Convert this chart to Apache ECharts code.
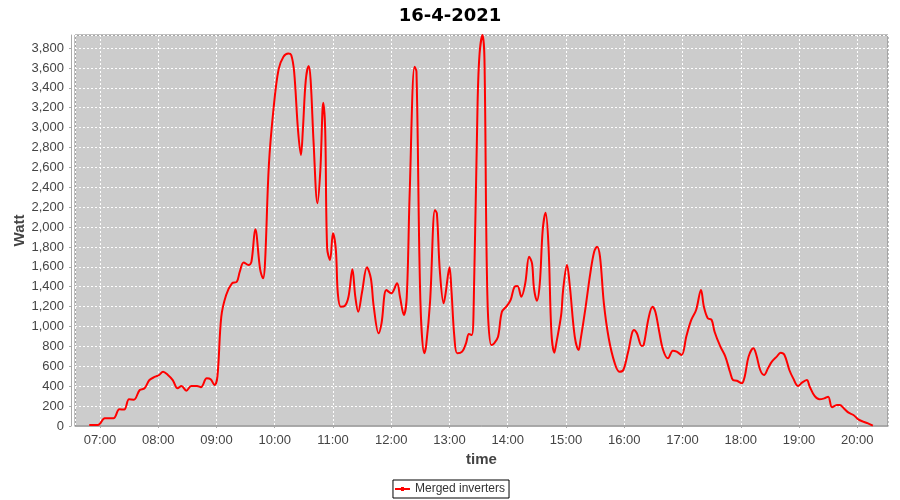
<!DOCTYPE html>
<html>
<head>
<meta charset="utf-8">
<script src="https://cdn.jsdelivr.net/npm/echarts@6/dist/echarts.min.js"></script>
<style>html,body{margin:0;padding:0;background:#fff}#c{width:900px;height:500px}</style>
</head>
<body>
<div id="c"></div>
<script>
const chartTitle = '16-4-2021';
const seriesName = 'Merged inverters';
const xName = 'time';
const yName = 'Watt';
const day = [2021, 3, 16];
const xMinTime = '06:34:20';
const xMaxTime = '20:31:36';
const yMin = 0;
const yMax = 3931;
const yStep = 200;

const times = ['06:49','06:58','07:05','07:14','07:20','07:25','07:30','07:35','07:41','07:46','07:51','07:57',
'08:01','08:05','08:10','08:15','08:20','08:24','08:29','08:34','08:40','08:44','08:50','08:54','08:58',
'09:01','09:05','09:10','09:16','09:21','09:24','09:28','09:33','09:36','09:40','09:45','09:48','09:50','09:54','09:59',
'10:04','10:09','10:14','10:17','10:20','10:24','10:27','10:29','10:32','10:35','10:37','10:40','10:44','10:47','10:50','10:52','10:54','10:57',
'11:00','11:03','11:05','11:08','11:12','11:16','11:20','11:23','11:26','11:30','11:35','11:39','11:42','11:47','11:50','11:55',
'12:00','12:06','12:09','12:13','12:16','12:19','12:24','12:26','12:30','12:34','12:36','12:40','12:45','12:47','12:50','12:54','12:56',
'13:00','13:02','13:05','13:08','13:13','13:17','13:20','13:23','13:25','13:29','13:31','13:34','13:36','13:39','13:43','13:46','13:50','13:54','13:59',
'14:03','14:07','14:10','14:14','14:18','14:22','14:25','14:27','14:30','14:33','14:36','14:39','14:42','14:45','14:48','14:50','14:55','14:57',
'15:01','15:04','15:09','15:13','15:15','15:20','15:25','15:29','15:32','15:35','15:39','15:44','15:50','15:55','15:59',
'16:04','16:10','16:13','16:18','16:20','16:25','16:29','16:32','16:36','16:40','16:45','16:50','16:54','16:59',
'17:04','17:09','17:14','17:19','17:22','17:26','17:30','17:33','17:39','17:44','17:49','17:52','17:56',
'18:01','18:04','18:08','18:13','18:16','18:20','18:24','18:28','18:32','18:37','18:41','18:45','18:50','18:54','18:59',
'19:03','19:08','19:11','19:16','19:21','19:26','19:30','19:34','19:39','19:42','19:46','19:51','19:56',
'20:01','20:06','20:11','20:16'];

const watts = [10,10,77,77,168,165,268,265,362,379,462,496,
513,546,513,462,379,402,355,402,402,390,479,470,412,
496,1099,1317,1434,1450,1551,1645,1618,1650,1977,1575,1485,1635,2624,3210,
3586,3713,3746,3730,3562,2976,2724,2976,3478,3619,3478,2858,2239,2573,3250,2976,1786,1669,
1937,1769,1334,1199,1206,1300,1575,1300,1149,1350,1595,1485,1199,932,1032,1367,
1334,1434,1300,1116,1300,2339,3612,3562,1267,731,814,1250,2171,2138,1568,1233,1334,
1595,1367,898,731,747,831,925,915,1250,3277,3747,3931,3696,1317,814,831,898,1149,1206,
1267,1401,1408,1300,1434,1702,1635,1384,1260,1434,1970,2144,1803,932,737,831,1116,1367,
1618,1400,898,764,865,1183,1535,1752,1803,1702,1233,882,637,546,563,
747,965,932,804,814,1083,1199,1149,948,764,680,757,747,714,
905,1066,1166,1367,1199,1083,1066,948,797,700,540,462,455,
429,496,697,781,714,563,513,580,647,697,737,714,563,479,402,
436,462,395,302,268,278,295,188,211,211,178,134,111,
67,44,27,3];

function ts(hm) {
  const p = hm.split(':').map(Number);
  return Date.UTC(day[0], day[1], day[2], p[0], p[1], p[2] || 0);
}
const data = times.map((t, i) => [ts(t), watts[i]]);
const fmtNum = v => String(Math.round(v)).replace(/\B(?=(\d{3})+(?!\d))/g, ',');

const chart = echarts.init(document.getElementById('c'), null, {renderer: 'canvas'});
chart.setOption({
  useUTC: true,
  animation: false,
  backgroundColor: '#ffffff',
  title: {
    text: chartTitle, left: 'center', top: 2,
    textStyle: {fontFamily: 'DejaVu Sans', fontWeight: 'bold', fontSize: 18, color: '#000'}
  },
  legend: {
    bottom: 2, left: 'center',
    data: [{name: seriesName, icon: 'path://M0,1 H15 V3 H0 Z M6,0 H9 V4 H6 Z'}],
    itemWidth: 15, itemHeight: 4,
    borderColor: '#000', borderWidth: 1, borderRadius: 0,
    padding: [3, 4, 3, 2],
    textStyle: {fontFamily: 'Liberation Sans', fontSize: 12, color: '#333'}
  },
  grid: {left: 75, right: 12, top: 35, bottom: 74, containLabel: false, outerBoundsMode: 'none',
    show: true, backgroundColor: '#cccccc', borderColor: '#808080', borderWidth: 1},
  xAxis: {
    type: 'time',
    min: ts(xMinTime), max: ts(xMaxTime),
    splitNumber: 14, minInterval: 3600000, maxInterval: 3600000,
    offset: 4,
    name: xName, nameLocation: 'middle', nameGap: 22, nameMoveOverlap: false,
    nameTextStyle: {fontFamily: 'Liberation Sans', fontWeight: 'bold', fontSize: 15, color: '#444'},
    axisLine: {show: true, lineStyle: {color: '#aaaaaa', width: 1}},
    axisTick: {show: true, length: 2, lineStyle: {color: '#aaaaaa'}},
    minorTick: {show: false},
    axisLabel: {formatter: '{HH}:{mm}', color: '#444', fontFamily: 'Liberation Sans', fontSize: 13,
      margin: 4, showMinLabel: false, showMaxLabel: false, hideOverlap: false},
    splitLine: {show: true, lineStyle: {color: '#ffffff', width: 1, type: [2, 2]}}
  },
  yAxis: {
    type: 'value', min: yMin, max: yMax, interval: yStep,
    offset: 4,
    name: yName, nameLocation: 'middle', nameGap: 44, nameMoveOverlap: false,
    nameTextStyle: {fontFamily: 'Liberation Sans', fontWeight: 'bold', fontSize: 15, color: '#444'},
    axisLine: {show: true, lineStyle: {color: '#aaaaaa', width: 1}},
    axisTick: {show: true, length: 2, lineStyle: {color: '#aaaaaa'}},
    axisLabel: {formatter: fmtNum, color: '#444', fontFamily: 'Liberation Sans', fontSize: 13,
      margin: 7, showMaxLabel: false},
    splitLine: {show: true, lineStyle: {color: '#ffffff', width: 1, type: [2, 2]}}
  },
  series: [{
    name: seriesName, type: 'line', data: data,
    smooth: 0.35, showSymbol: false, symbol: 'rect', symbolSize: 2,
    lineStyle: {color: '#ff0000', width: 2},
    itemStyle: {color: '#ff0000'},
    emphasis: {disabled: true}
  }]
});
</script>
</body>
</html>
